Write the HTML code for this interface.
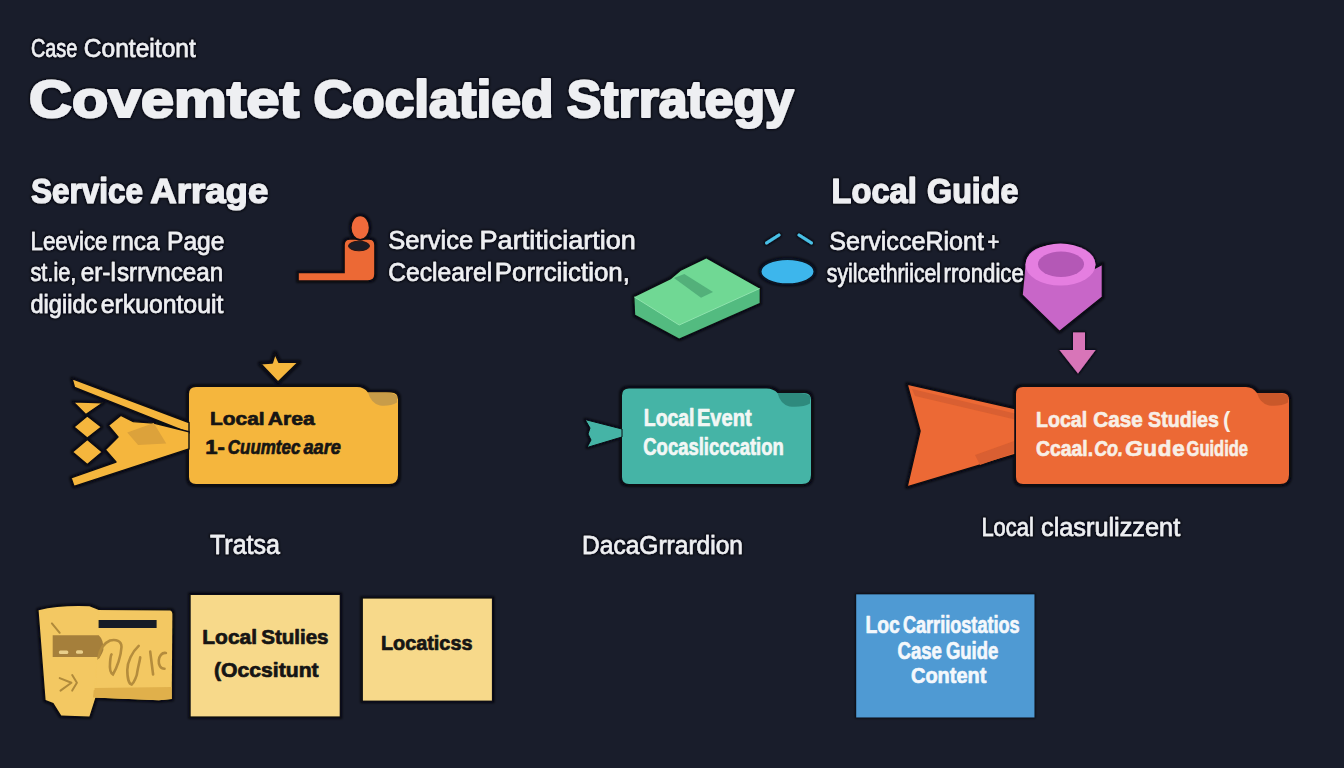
<!DOCTYPE html>
<html><head><meta charset="utf-8"><style>
html,body{margin:0;padding:0;background:#191d2b;width:1344px;height:768px;overflow:hidden}
svg{display:block}
text{font-family:"Liberation Sans",sans-serif}
</style></head><body>
<svg width="1344" height="768" viewBox="0 0 1344 768">
<defs><filter id="halo" x="-5%" y="-20%" width="110%" height="140%">
<feMorphology in="SourceAlpha" operator="dilate" radius="1" result="d"/>
<feGaussianBlur in="d" stdDeviation="1.2" result="b"/>
<feFlood flood-color="#07090e" flood-opacity="0.75"/>
<feComposite in2="b" operator="in" result="s"/>
<feMerge><feMergeNode in="s"/><feMergeNode in="SourceGraphic"/></feMerge>
</filter></defs>
<rect width="1344" height="768" fill="#191d2b"/>
<g filter="url(#halo)">
<path d="M196 387 L357 387 Q364 387 368 392.5 L391 392.5 Q398 392.5 398 399.5 L398 475 Q398 484 389 484 L196 484 Q189 484 189 477 L189 394 Q189 387 196 387 Z" fill="#f5b63e" stroke="#0c0d12" stroke-width="3.5" paint-order="stroke"/>
<path d="M368 392.5 Q371 403.5 380 405.5 Q390 406.5 397 402.5 L397 395.5 Q393 392.5 386 392.5 Z" fill="#c89c48"/>
<path d="M260 363.5 L272 362.6 L275 353 L279.2 362 L299 362 L278 382.5 Z" fill="#f5b63e" stroke="#0c0d12" stroke-width="2.2" stroke-linejoin="round"/>
<path d="M72 378.5 L189 422.5 L189 433 L74.5 387.5 Z" fill="#f5b63e" stroke="#0c0d12" stroke-width="1.4" stroke-linejoin="round"/>
<path d="M73.3 402 L103 402.8 L85.8 414.5 Z" fill="#f5b63e" stroke="#0c0d12" stroke-width="1.2"/>
<path d="M74 427 L87.3 416 L101.4 427 L87.3 438 Z" fill="#f5b63e" stroke="#0c0d12" stroke-width="1.2"/>
<path d="M72.5 452 L87.3 439.5 L102.2 452 L87.3 464.5 Z" fill="#f5b63e" stroke="#0c0d12" stroke-width="1.2"/>
<path d="M71 477.8 L116 462 L105.3 449.7 L118 437 L108.4 425.5 L121 415.3 L133.4 421.6 L153.75 423.1 L189 431.7 L189 449 L74 486.5 Z" fill="#f5b63e" stroke="#0c0d12" stroke-width="1.4" stroke-linejoin="round"/>
<path d="M127.2 432.5 L153.75 423.1 L166.25 443.4 L138.1 445 Z" fill="#dca23a"/>
<path d="M629 388.5 L766.5 388.5 Q773.5 388.5 777.5 393 L804 393 Q811 393 811 400 L811 475 Q811 484 802 484 L629 484 Q622 484 622 477 L622 395.5 Q622 388.5 629 388.5 Z" fill="#44b4a6" stroke="#0c0d12" stroke-width="3.5" paint-order="stroke"/>
<path d="M777.5 393 Q780.5 404.5 789.5 406.5 Q803 407.5 810 403.5 L810 396 Q806 393 799 393 Z" fill="#2f8a7d"/>
<path d="M585 419.5 L622 429 L622 437 L587 447.5 L591 440 L588 434 L590 428 Z" fill="#44b4a6" stroke="#0c0d12" stroke-width="1"/>
<path d="M907 384 L1017 409 L1017 454 L907 487 L920 431 Z" fill="#ec6934" stroke="#0c0d12" stroke-width="1.5" stroke-linejoin="round"/>
<path d="M912 389 L1017 414 L1017 420 L915 396 Z" fill="#d95f30"/>
<path d="M975 455 L1017 440 L1017 452 L980 465 Z" fill="#d95f30"/>
<path d="M1023 387 L1246 387 Q1253 387 1257 393 L1282 393 Q1289 393 1289 400 L1289 475 Q1289 484 1280 484 L1023 484 Q1016 484 1016 477 L1016 394 Q1016 387 1023 387 Z" fill="#ec6934" stroke="#0c0d12" stroke-width="3.5" paint-order="stroke"/>
<path d="M1257 393 Q1260 403.5 1269 405.5 Q1281 406.5 1288 402.5 L1288 396 Q1284 393 1277 393 Z" fill="#c9582c"/>
<path d="M298 272.5 L344 272.5 L344 245 Q344 239 350 239 L369 239 Q375 239 375 245 L375 274 Q375 281 368 281 L298 281 Z" fill="#ec6934" stroke="#0c0d12" stroke-width="1.6"/>
<ellipse cx="359" cy="246" rx="10.5" ry="4.8" fill="#1a1c26" stroke="#2a1616" stroke-width="1"/>
<ellipse cx="360.2" cy="227.7" rx="9.4" ry="12.2" fill="#f06b3a" stroke="#0c0d12" stroke-width="1.6"/>
<path d="M634.4 297 L670.8 279.2 L680.9 270.8 L706.3 258.6 L759.6 288.5 L759.6 302.9 L679.2 338.5 L635.2 314.8 Z" fill="none" stroke="#0c0d12" stroke-width="2.5" stroke-linejoin="round"/>
<path d="M634.4 297 L635.2 314.8 L679.2 338.5 L759.6 302.9 L759.6 288.5 Z" fill="#52bb80"/>
<path d="M634.4 297 L670.8 279.2 L680.9 270.8 L706.3 258.6 L759.6 288.5 L679.2 325 Z" fill="#6fd894"/>
<path d="M634.4 297 L679.2 325 L759.6 288.5" fill="none" stroke="#8fe3ad" stroke-width="1"/>
<path d="M674 278 L684.3 274 L713 292 L701 297.8 Z" fill="#52b07a"/>
<ellipse cx="787.5" cy="271.6" rx="27" ry="12.7" fill="#3db6ec" stroke="#0b1524" stroke-width="2"/>
<path d="M766.5 243 L779 235 M799 235 L811.5 243" stroke="#49c0e6" stroke-width="3" stroke-linecap="round"/>
<path d="M1025 262 L1022 295 L1059.5 331.5 L1102.5 297 L1102.5 264 L1095 268 Q1090 244 1060 244 Q1028 244 1025 262 Z" fill="#c866c8" stroke="#0c0d12" stroke-width="1.6"/>
<ellipse cx="1060.5" cy="264.6" rx="35" ry="21" fill="#e57ee0"/>
<ellipse cx="1061" cy="264.2" rx="23" ry="12.7" fill="#b458b6"/>
<path d="M1073 332.5 L1085 332.5 L1085 350 L1095.6 350 L1078 373.5 L1059.5 350 L1073 350 Z" fill="#d874b8"/>
<path d="M95.7 610 L170.3 610.5 Q172.4 611 172.4 614 L171.7 698.9 L158.8 700.3 L92.9 697.5 Z M38.6 610.2 Q60 605 89.4 606.25 L98.75 610 L95.6 696.9 L89.4 716.4 L61.25 715.6 L53.4 703 L45.6 700 Z" fill="#0c0d12" stroke="#0c0d12" stroke-width="2.6" stroke-linejoin="round"/>
<path d="M95.7 610 L170.3 610.5 Q172.4 611 172.4 614 L171.7 698.9 L158.8 700.3 L92.9 697.5 Z" fill="#f3c862"/>
<path d="M38.6 610.2 Q60 605 89.4 606.25 L98.75 610 L95.6 696.9 L89.4 716.4 L61.25 715.6 L53.4 703 L45.6 700 Z" fill="#f3c862"/>
<path d="M94 688 L171.5 687 L171.7 698.9 L158.8 700.3 L93 697.5 Z" fill="#e0b04c"/>
<path d="M40 612 Q60 607 89.4 607.5 L97.5 611 L94.5 690 L46 690 Z" fill="#f3c862"/>
<rect x="98.6" y="620" width="58" height="8" fill="#141a26"/>
<path d="M52.7 635.2 L98.75 635.2 Q104 640 103.4 650 Q101 657 97 660 L98 657 L52.7 657 Z" fill="#a57f3b"/>
<rect x="58.9" y="650.5" width="9.4" height="3.4" rx="1.5" fill="#e9cf8a"/>
<rect x="76" y="650.3" width="7" height="3.4" rx="1.5" fill="#e9cf8a"/>
<path d="M59.7 678.1 L71.4 682.8 L60.5 690.6 M72.2 675 L76.9 682.8 L72.2 690.6 M51.9 623.4 L59.7 632.8" fill="none" stroke="#b08a3a" stroke-width="2" stroke-linecap="round" stroke-linejoin="round"/>
<path d="M98.6 657.3 C100 648 104.3 643 110 640.5 C116 639 121.5 641 121.5 647 C121 656 117 668 112.9 674.5 C110.5 673 109.5 668 110.1 662 C110.5 657 111 655 111.5 654.5 M138.7 645.9 C132 652 127.3 662 127.3 670 C127.3 678 129 684 131.6 684.6 C134 683 137.3 675 137.3 671.7 C138.5 665 140 660 140.2 657.3 M150.2 651.6 L153.1 674.5 M165.9 653 C157.4 651.6 155.9 668.8 164.5 668.8" fill="none" stroke="#b48c3c" stroke-width="2.6" stroke-linecap="round"/>
<rect x="190.7" y="595" width="149" height="121.4" fill="#f7d98a" stroke="#0c0d12" stroke-width="3" paint-order="stroke"/>
<rect x="362.9" y="598.6" width="129" height="102" fill="#f7d98a" stroke="#0c0d12" stroke-width="3" paint-order="stroke"/>
<rect x="856.3" y="594.5" width="178" height="122.8" fill="#4f9ad3"/>
</g>
<g filter="url(#halo)">
<text x="30.9" y="56.8" font-size="25" font-weight="400" font-style="normal" fill="#eeeff2" textLength="46.4" lengthAdjust="spacingAndGlyphs" stroke="#eeeff2" stroke-width="0.5" stroke-linejoin="round" >Case</text>
<text x="83.8" y="56.8" font-size="25" font-weight="400" font-style="normal" fill="#eeeff2" textLength="112.0" lengthAdjust="spacingAndGlyphs" stroke="#eeeff2" stroke-width="0.5" stroke-linejoin="round" >Conteitont</text>
<text x="29.1" y="116.8" font-size="52.5" font-weight="700" font-style="normal" fill="#eeeff2" textLength="270.1" lengthAdjust="spacingAndGlyphs" stroke="#eeeff2" stroke-width="2.2" stroke-linejoin="round" >Covemtet</text>
<text x="313.6" y="116.8" font-size="52.5" font-weight="700" font-style="normal" fill="#eeeff2" textLength="239.9" lengthAdjust="spacingAndGlyphs" stroke="#eeeff2" stroke-width="2.2" stroke-linejoin="round" >Coclatied</text>
<text x="566.8" y="116.8" font-size="52.5" font-weight="700" font-style="normal" fill="#eeeff2" textLength="227.1" lengthAdjust="spacingAndGlyphs" stroke="#eeeff2" stroke-width="2.2" stroke-linejoin="round" >Strrategy</text>
<text x="31.1" y="202.8" font-size="35" font-weight="700" font-style="normal" fill="#eeeff2" textLength="111.8" lengthAdjust="spacingAndGlyphs" stroke="#eeeff2" stroke-width="1.2" stroke-linejoin="round" >Service</text>
<text x="150.2" y="202.8" font-size="35" font-weight="700" font-style="normal" fill="#eeeff2" textLength="118.2" lengthAdjust="spacingAndGlyphs" stroke="#eeeff2" stroke-width="1.2" stroke-linejoin="round" >Arrage</text>
<text x="831.6" y="202.8" font-size="35" font-weight="700" font-style="normal" fill="#eeeff2" textLength="85.2" lengthAdjust="spacingAndGlyphs" stroke="#eeeff2" stroke-width="1.2" stroke-linejoin="round" >Local</text>
<text x="927.1" y="202.8" font-size="35" font-weight="700" font-style="normal" fill="#eeeff2" textLength="91.3" lengthAdjust="spacingAndGlyphs" stroke="#eeeff2" stroke-width="1.2" stroke-linejoin="round" >Guide</text>
<text x="30.5" y="249.5" font-size="25" font-weight="400" font-style="normal" fill="#eeeff2" textLength="77.0" lengthAdjust="spacingAndGlyphs" stroke="#eeeff2" stroke-width="0.5" stroke-linejoin="round" >Leevice</text>
<text x="112.0" y="249.5" font-size="25" font-weight="400" font-style="normal" fill="#eeeff2" textLength="47.5" lengthAdjust="spacingAndGlyphs" stroke="#eeeff2" stroke-width="0.5" stroke-linejoin="round" >rnca</text>
<text x="167.0" y="249.5" font-size="25" font-weight="400" font-style="normal" fill="#eeeff2" textLength="57.5" lengthAdjust="spacingAndGlyphs" stroke="#eeeff2" stroke-width="0.5" stroke-linejoin="round" >Page</text>
<text x="30.5" y="281" font-size="25" font-weight="400" font-style="normal" fill="#eeeff2" textLength="45.8" lengthAdjust="spacingAndGlyphs" stroke="#eeeff2" stroke-width="0.5" stroke-linejoin="round" >st.ie,</text>
<text x="80.8" y="281" font-size="25" font-weight="400" font-style="normal" fill="#eeeff2" textLength="35.0" lengthAdjust="spacingAndGlyphs" stroke="#eeeff2" stroke-width="0.5" stroke-linejoin="round" >er-l</text>
<text x="117.0" y="281" font-size="25" font-weight="400" font-style="normal" fill="#eeeff2" textLength="106.2" lengthAdjust="spacingAndGlyphs" stroke="#eeeff2" stroke-width="0.5" stroke-linejoin="round" >srrvncean</text>
<text x="30.5" y="313" font-size="25" font-weight="400" font-style="normal" fill="#eeeff2" textLength="66.8" lengthAdjust="spacingAndGlyphs" stroke="#eeeff2" stroke-width="0.5" stroke-linejoin="round" >digiidc</text>
<text x="100.8" y="313" font-size="25" font-weight="400" font-style="normal" fill="#eeeff2" textLength="122.5" lengthAdjust="spacingAndGlyphs" stroke="#eeeff2" stroke-width="0.5" stroke-linejoin="round" >erkuontouit</text>
<text x="388.2" y="249.2" font-size="26" font-weight="400" font-style="normal" fill="#eeeff2" textLength="84.9" lengthAdjust="spacingAndGlyphs" stroke="#eeeff2" stroke-width="0.5" stroke-linejoin="round" >Service</text>
<text x="479.6" y="249.2" font-size="26" font-weight="400" font-style="normal" fill="#eeeff2" textLength="156.2" lengthAdjust="spacingAndGlyphs" stroke="#eeeff2" stroke-width="0.5" stroke-linejoin="round" >Partiticiartion</text>
<text x="388.2" y="281.3" font-size="26" font-weight="400" font-style="normal" fill="#eeeff2" textLength="104.0" lengthAdjust="spacingAndGlyphs" stroke="#eeeff2" stroke-width="0.5" stroke-linejoin="round" >Ceclearel</text>
<text x="494.8" y="281.3" font-size="26" font-weight="400" font-style="normal" fill="#eeeff2" textLength="135.1" lengthAdjust="spacingAndGlyphs" stroke="#eeeff2" stroke-width="0.5" stroke-linejoin="round" >Porrciiction,</text>
<text x="829.2" y="249.5" font-size="26" font-weight="400" font-style="normal" fill="#eeeff2" textLength="154.8" lengthAdjust="spacingAndGlyphs" stroke="#eeeff2" stroke-width="0.5" stroke-linejoin="round" >ServicceRiont</text>
<text x="987.5" y="249.5" font-size="26" font-weight="400" font-style="normal" fill="#eeeff2" textLength="11.8" lengthAdjust="spacingAndGlyphs" stroke="#eeeff2" stroke-width="0.5" stroke-linejoin="round" >+</text>
<text x="826.8" y="281.7" font-size="26" font-weight="400" font-style="normal" fill="#eeeff2" textLength="114.2" lengthAdjust="spacingAndGlyphs" stroke="#eeeff2" stroke-width="0.5" stroke-linejoin="round" >syilcethriicel</text>
<text x="943.5" y="281.7" font-size="26" font-weight="400" font-style="normal" fill="#eeeff2" textLength="80.3" lengthAdjust="spacingAndGlyphs" stroke="#eeeff2" stroke-width="0.5" stroke-linejoin="round" >rrondice</text>
<text x="210" y="553.5" font-size="27" font-weight="400" font-style="normal" fill="#eeeff2" textLength="70" lengthAdjust="spacingAndGlyphs" stroke="#eeeff2" stroke-width="0.5" stroke-linejoin="round" >Tratsa</text>
<text x="582" y="554" font-size="26" font-weight="400" font-style="normal" fill="#eeeff2" textLength="161" lengthAdjust="spacingAndGlyphs" stroke="#eeeff2" stroke-width="0.5" stroke-linejoin="round" >DacaGrrardion</text>
<text x="981.4" y="536" font-size="25" font-weight="400" font-style="normal" fill="#eeeff2" textLength="52.4" lengthAdjust="spacingAndGlyphs" stroke="#eeeff2" stroke-width="0.5" stroke-linejoin="round" >Local</text>
<text x="1041.0" y="536" font-size="25" font-weight="400" font-style="normal" fill="#eeeff2" textLength="139.2" lengthAdjust="spacingAndGlyphs" stroke="#eeeff2" stroke-width="0.5" stroke-linejoin="round" >clasrulizzent</text>
</g>
<text x="210.0" y="424.8" font-size="19" font-weight="700" font-style="normal" fill="#161514" textLength="54.6" lengthAdjust="spacingAndGlyphs" stroke="#161514" stroke-width="0.7" stroke-linejoin="round" >Local</text>
<text x="267.8" y="424.8" font-size="19" font-weight="700" font-style="normal" fill="#161514" textLength="46.9" lengthAdjust="spacingAndGlyphs" stroke="#161514" stroke-width="0.7" stroke-linejoin="round" >Area</text>
<text x="205.2" y="454" font-size="19.5" font-weight="700" font-style="normal" fill="#161514" textLength="19.6" lengthAdjust="spacingAndGlyphs" stroke="#161514" stroke-width="0.7" stroke-linejoin="round" >1-</text>
<text x="227.8" y="454" font-size="19.5" font-weight="700" font-style="italic" fill="#161514" textLength="72.6" lengthAdjust="spacingAndGlyphs" stroke="#161514" stroke-width="0.7" stroke-linejoin="round" >Cuumtec</text>
<text x="303.5" y="454" font-size="19.5" font-weight="700" font-style="italic" fill="#161514" textLength="37.4" lengthAdjust="spacingAndGlyphs" stroke="#161514" stroke-width="0.7" stroke-linejoin="round" >aare</text>
<text x="643.8" y="426" font-size="23" font-weight="700" font-style="normal" fill="#f2f7f5" textLength="50.7" lengthAdjust="spacingAndGlyphs" stroke="#f2f7f5" stroke-width="0.7" stroke-linejoin="round" >Local</text>
<text x="697.0" y="426" font-size="23" font-weight="700" font-style="normal" fill="#f2f7f5" textLength="54.6" lengthAdjust="spacingAndGlyphs" stroke="#f2f7f5" stroke-width="0.7" stroke-linejoin="round" >Event</text>
<text x="643.3" y="455" font-size="23" font-weight="700" font-style="normal" fill="#f2f7f5" textLength="140.4" lengthAdjust="spacingAndGlyphs" stroke="#f2f7f5" stroke-width="0.7" stroke-linejoin="round" >Cocaslicccation</text>
<text x="1036.0" y="426.5" font-size="22.5" font-weight="700" font-style="normal" fill="#f8efe6" textLength="51.1" lengthAdjust="spacingAndGlyphs" stroke="#f8efe6" stroke-width="0.7" stroke-linejoin="round" >Local</text>
<text x="1093.3" y="426.5" font-size="22.5" font-weight="700" font-style="normal" fill="#f8efe6" textLength="49.4" lengthAdjust="spacingAndGlyphs" stroke="#f8efe6" stroke-width="0.7" stroke-linejoin="round" >Case</text>
<text x="1148.1" y="426.5" font-size="22.5" font-weight="700" font-style="normal" fill="#f8efe6" textLength="70.8" lengthAdjust="spacingAndGlyphs" stroke="#f8efe6" stroke-width="0.7" stroke-linejoin="round" >Studies</text>
<text x="1223" y="426.5" font-size="22" font-weight="700" fill="#f8efe6">(</text>
<text x="1036.0" y="455.6" font-size="22.5" font-weight="700" font-style="normal" fill="#f8efe6" textLength="57.1" lengthAdjust="spacingAndGlyphs" stroke="#f8efe6" stroke-width="0.7" stroke-linejoin="round" >Ccaal.</text>
<text x="1186.6" y="455.6" font-size="22.5" font-weight="700" font-style="normal" fill="#f8efe6" textLength="61.4" lengthAdjust="spacingAndGlyphs" stroke="#f8efe6" stroke-width="0.7" stroke-linejoin="round" >Guidide</text>
<text x="1094.2" y="455.6" font-size="22.5" font-weight="700" font-style="italic" fill="#f8efe6" textLength="28.8" lengthAdjust="spacingAndGlyphs" stroke="#f8efe6" stroke-width="0.7" stroke-linejoin="round" >Co.</text>
<text x="1125.1" y="455.6" font-size="22.5" font-weight="700" fill="#f8efe6" stroke="#f8efe6" stroke-width="0.7" textLength="59.6" lengthAdjust="spacing"><tspan font-style="italic">G</tspan>ude</text>
<text x="202.3" y="644.3" font-size="20" font-weight="700" font-style="normal" fill="#161514" textLength="54.7" lengthAdjust="spacingAndGlyphs" stroke="#161514" stroke-width="0.7" stroke-linejoin="round" >Local</text>
<text x="261.2" y="644.3" font-size="20" font-weight="700" font-style="normal" fill="#161514" textLength="67.3" lengthAdjust="spacingAndGlyphs" stroke="#161514" stroke-width="0.7" stroke-linejoin="round" >Stulies</text>
<text x="214.0" y="677" font-size="20" font-weight="700" font-style="normal" fill="#161514" textLength="104.6" lengthAdjust="spacingAndGlyphs" stroke="#161514" stroke-width="0.7" stroke-linejoin="round" >(Occsitunt</text>
<text x="380.9" y="649.6" font-size="20" font-weight="700" font-style="normal" fill="#161514" textLength="91.6" lengthAdjust="spacingAndGlyphs" stroke="#161514" stroke-width="0.7" stroke-linejoin="round" >Locaticss</text>
<text x="865.4" y="632.8" font-size="23" font-weight="700" font-style="normal" fill="#f4f8fc" textLength="34.3" lengthAdjust="spacingAndGlyphs" stroke="#f4f8fc" stroke-width="0.7" stroke-linejoin="round" >Loc</text>
<text x="902.9" y="632.8" font-size="23" font-weight="700" font-style="normal" fill="#f4f8fc" textLength="116.8" lengthAdjust="spacingAndGlyphs" stroke="#f4f8fc" stroke-width="0.7" stroke-linejoin="round" >Carriiostatios</text>
<text x="897.6" y="658.8" font-size="23" font-weight="700" font-style="normal" fill="#f4f8fc" textLength="44.3" lengthAdjust="spacingAndGlyphs" stroke="#f4f8fc" stroke-width="0.7" stroke-linejoin="round" >Case</text>
<text x="945.9" y="658.8" font-size="23" font-weight="700" font-style="normal" fill="#f4f8fc" textLength="52.4" lengthAdjust="spacingAndGlyphs" stroke="#f4f8fc" stroke-width="0.7" stroke-linejoin="round" >Guide</text>
<text x="911.0" y="682.6" font-size="22.5" font-weight="700" font-style="normal" fill="#f4f8fc" textLength="75.3" lengthAdjust="spacingAndGlyphs" stroke="#f4f8fc" stroke-width="0.7" stroke-linejoin="round" >Content</text>
</svg>
</body></html>
